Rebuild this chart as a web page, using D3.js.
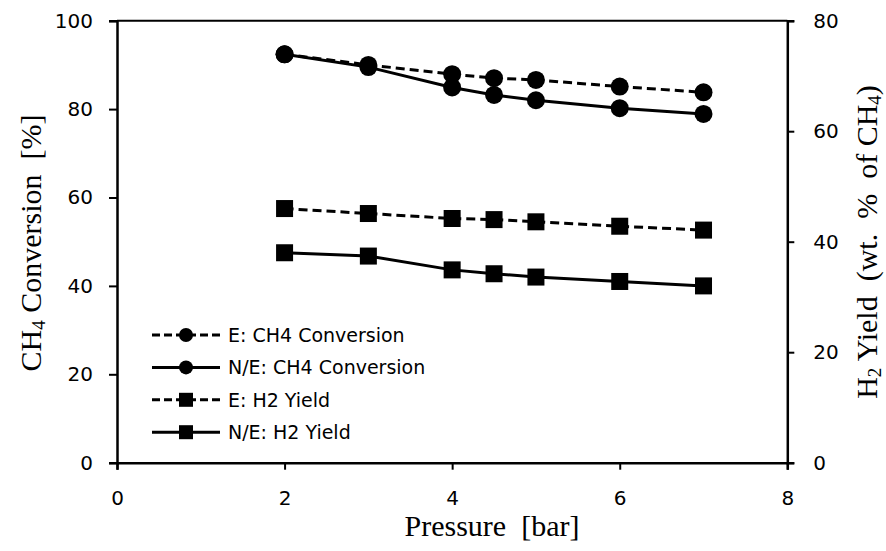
<!DOCTYPE html>
<html>
<head>
<meta charset="utf-8">
<script src="https://cdn.jsdelivr.net/npm/d3@7"></script>
<style>
  body { margin: 0; background: #fff; }
  svg { display: block; }
  .tick text { font-family: "DejaVu Sans", sans-serif; font-size: 20px; fill: #000; }
  .title { font-family: "Liberation Serif", "Times New Roman", serif; font-size: 30px; fill: #000; }
  .legend text { font-family: "DejaVu Sans", sans-serif; font-size: 19px; fill: #000; }
</style>
</head>
<body>
<svg id="chart" width="886" height="551"></svg>
<script>
// pressure in bar
var pressure = [2, 3, 4, 4.5, 5, 6, 7];
// CH4 conversion, % (left axis)
var convE  = [92.4, 90.0, 87.9, 87.0, 86.6, 85.1, 83.8];
var convNE = [92.4, 89.5, 84.9, 83.2, 82.0, 80.2, 78.9];
// H2 yield, wt.% of CH4 (right axis)
var h2E  = [46.0, 45.1, 44.2, 44.0, 43.6, 42.8, 42.1];
var h2NE = [38.0, 37.4, 34.9, 34.2, 33.6, 32.8, 32.0];

var xTicks = [0, 2, 4, 6, 8];
var yLeftTicks = [0, 20, 40, 60, 80, 100];
var yRightTicks = [0, 20, 40, 60, 80];

var svg = d3.select("#chart");
var pLeft = 117, pRight = 787.3, pTop = 20.7, pBottom = 462.7;

var x = d3.scaleLinear().domain([0, 8]).range([pLeft, pRight]);
var yL = d3.scaleLinear().domain([0, 100]).range([pBottom, pTop]);
var yR = d3.scaleLinear().domain([0, 80]).range([pBottom, pTop]);

// frame top line
svg.append("line").attr("x1", pLeft).attr("x2", pRight).attr("y1", pTop).attr("y2", pTop)
  .attr("stroke", "#000").attr("stroke-width", 2);

var gx = svg.append("g").attr("transform", "translate(0," + pBottom + ")")
  .call(d3.axisBottom(x).tickValues(xTicks).tickSize(7).tickPadding(21).tickFormat(d3.format("d")));
var gl = svg.append("g").attr("transform", "translate(" + pLeft + ",0)")
  .call(d3.axisLeft(yL).tickValues(yLeftTicks).tickSize(8).tickPadding(16).tickFormat(d3.format("d")));
var gr = svg.append("g").attr("transform", "translate(" + pRight + ",0)")
  .call(d3.axisRight(yR).tickValues(yRightTicks).tickSize(7).tickPadding(19).tickFormat(d3.format("d")));

[gx, gl, gr].forEach(function(g) {
  g.select(".domain").attr("stroke", "#000").attr("stroke-width", 2.5);
  g.selectAll(".tick line").attr("stroke", "#000").attr("stroke-width", 2);
});

var series = [
  {vals: convE,  y: yL, dash: "9,5", mark: "circle"},
  {vals: convNE, y: yL, dash: null,  mark: "circle"},
  {vals: h2E,    y: yR, dash: "9,5", mark: "square"},
  {vals: h2NE,   y: yR, dash: null,  mark: "square"}
];

series.forEach(function(s) {
  var pts = pressure.map(function(p, i) { return [p, s.vals[i]]; });
  var line = d3.line().x(function(d) { return x(d[0]); }).y(function(d) { return s.y(d[1]); });
  svg.append("path").datum(pts).attr("d", line)
    .attr("fill", "none").attr("stroke", "#000").attr("stroke-width", 3)
    .attr("stroke-dasharray", s.dash);
});

series.forEach(function(s) {
  var pts = pressure.map(function(p, i) { return [p, s.vals[i]]; });
  if (s.mark === "circle") {
    svg.selectAll(null).data(pts).enter().append("circle")
      .attr("cx", function(d) { return x(d[0]); })
      .attr("cy", function(d) { return s.y(d[1]); })
      .attr("r", 9).attr("fill", "#000");
  } else {
    svg.selectAll(null).data(pts).enter().append("rect")
      .attr("x", function(d) { return x(d[0]) - 8.5; })
      .attr("y", function(d) { return s.y(d[1]) - 8.5; })
      .attr("width", 17).attr("height", 17).attr("fill", "#000");
  }
});

// legend
var legendItems = ["E: CH4 Conversion", "N/E: CH4 Conversion", "E: H2 Yield", "N/E: H2 Yield"];
var lg = svg.append("g").attr("class", "legend");
legendItems.forEach(function(name, i) {
  var s = series[i];
  var ly = 335 + i * 32.4;
  lg.append("line").attr("x1", 152).attr("x2", 220).attr("y1", ly).attr("y2", ly)
    .attr("stroke", "#000").attr("stroke-width", 3).attr("stroke-dasharray", s.dash ? "8,4" : null);
  if (s.mark === "circle") {
    lg.append("circle").attr("cx", 186).attr("cy", ly).attr("r", 7).attr("fill", "#000");
  } else {
    lg.append("rect").attr("x", 179).attr("y", ly - 7).attr("width", 14).attr("height", 14).attr("fill", "#000");
  }
  lg.append("text").attr("x", 228).attr("y", ly).attr("dy", "0.36em").text(name);
});

// axis titles
svg.append("text").attr("class", "title").attr("x", 492).attr("y", 536)
  .attr("text-anchor", "middle").style("white-space", "pre").text("Pressure  [bar]");

var tl = svg.append("text").attr("class", "title")
  .attr("transform", "translate(41,243) rotate(-90)")
  .attr("text-anchor", "middle").style("white-space", "pre");
tl.append("tspan").text("CH");
tl.append("tspan").attr("font-size", "19px").attr("dy", 4).text("4");
tl.append("tspan").attr("dy", -4).text(" Conversion  [%]");

var tr = svg.append("text").attr("class", "title")
  .attr("transform", "translate(877,242) rotate(-90)")
  .attr("text-anchor", "middle").style("white-space", "pre");
tr.append("tspan").text("H");
tr.append("tspan").attr("font-size", "19px").attr("dy", 4).text("2");
tr.append("tspan").attr("dy", -4).text(" Yield  (wt.  %  of CH");
tr.append("tspan").attr("font-size", "19px").attr("dy", 4).text("4");
tr.append("tspan").attr("dy", -4).text(")");
</script>
</body>
</html>
